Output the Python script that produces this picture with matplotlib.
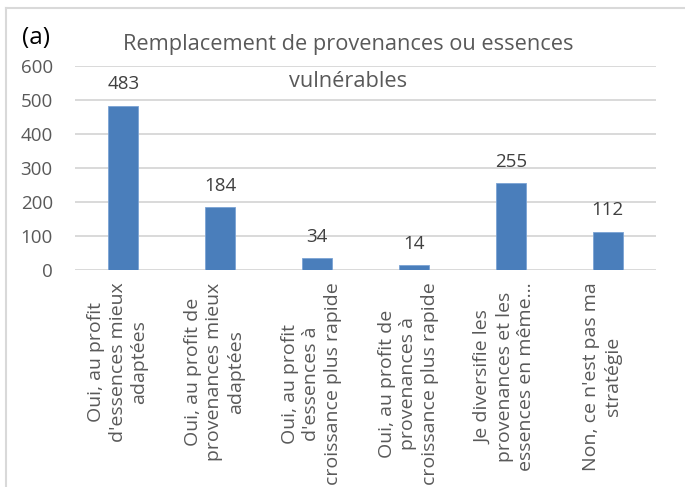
"""Bar chart: remplacement de provenances ou essences vulnérables."""

import matplotlib

matplotlib.use("Agg")
import matplotlib.pyplot as plt
import numpy as np
from matplotlib.lines import Line2D

plt.rcParams["font.family"] = ["Open Sans", "DejaVu Sans"]

# data
categories = [
    "Oui, au profit\nd'essences mieux\nadaptées",
    "Oui, au profit de\nprovenances mieux\nadaptées",
    "Oui, au profit\nd'essences à\ncroissance plus rapide",
    "Oui, au profit de\nprovenances à\ncroissance plus rapide",
    "Je diversifie les\nprovenances et les\nessences en même…",
    "Non, ce n'est pas ma\nstratégie",
]
counts = [483, 184, 34, 14, 255, 112]
y_ticks = [0, 100, 200, 300, 400, 500, 600]
title_lines = ["Remplacement de provenances ou essences", "vulnérables"]
panel_tag = "(a)"

# style
W, H = 685, 487
BAR_COLOR = "#4A7EBB"
GRID_COLOR = "#D9D9D9"
TEXT_COLOR = "#595959"
VALUE_COLOR = "#404040"

fig = plt.figure(figsize=(W / 100, H / 100), dpi=100)
ax = fig.add_axes([75 / W, 1 - 270 / H, 581 / W, 204 / H])

x = np.arange(len(counts))
bars = ax.bar(x, counts, width=0.31, color=BAR_COLOR, edgecolor="#7BA3D4", linewidth=0.6, zorder=3)
ax.bar_label(bars, padding=9, fontsize=13.5, color=VALUE_COLOR)

ax.set_xlim(-0.5, len(counts) - 0.5)
ax.set_ylim(0, 600)
ax.set_yticks(y_ticks)
ax.yaxis.grid(True, color=GRID_COLOR, linewidth=1.4)
ax.set_axisbelow(True)
for spine in ax.spines.values():
    spine.set_visible(False)
ax.tick_params(axis="y", length=0, pad=16, labelsize=13.5, labelcolor=TEXT_COLOR)

ax.set_xticks(x - 0.06)
ax.set_xticklabels(categories, rotation=90, multialignment="center", linespacing=1.25)
ax.tick_params(axis="x", length=0, pad=9, labelsize=14, labelcolor=TEXT_COLOR)

# title: two lines with the wide gap of the original text box
for line, baseline in zip(title_lines, [50, 87]):
    fig.text(348 / W, 1 - baseline / H, line, ha="center", va="baseline",
             fontsize=15.7, color=TEXT_COLOR)
fig.text(22 / W, 1 - 26 / H, panel_tag, ha="left", va="top", fontsize=17.5, color="black")

# chart frame (right and bottom edges fall outside the crop)
fig.add_artist(Line2D([6 / W, 6 / W], [0, 1 - 8 / H], transform=fig.transFigure, color=GRID_COLOR, lw=1.5))
fig.add_artist(Line2D([6 / W, 1], [1 - 8 / H, 1 - 8 / H], transform=fig.transFigure, color=GRID_COLOR, lw=1.5))

fig.savefig("out.png", dpi=100)
